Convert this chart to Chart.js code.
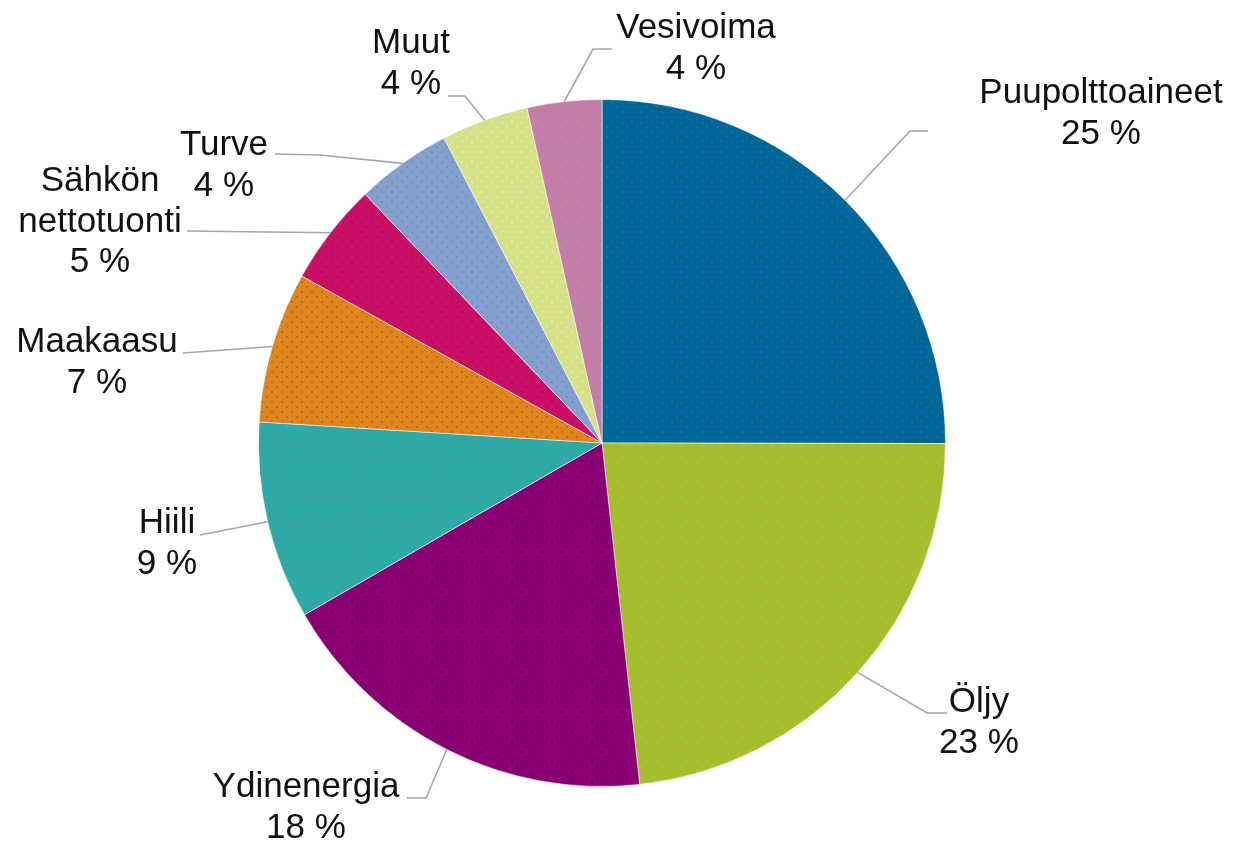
<!DOCTYPE html>
<html>
<head>
<meta charset="utf-8">
<script src="https://cdn.jsdelivr.net/npm/chart.js@4/dist/chart.umd.min.js"></script>
<style>
  html, body { margin: 0; padding: 0; background: #ffffff; }
  #wrap { width: 1234px; height: 841px; }
</style>
</head>
<body>
<div id="wrap"><canvas id="c" width="1234" height="841"></canvas></div>
<script>
// ---- Data ----
const categories = ["Puupolttoaineet", "Öljy", "Ydinenergia", "Hiili", "Maakaasu",
                    "Sähkön\nnettotuonti", "Turve", "Muut", "Vesivoima"];
const shares = [25.0, 23.2, 18.4, 9.3, 7.1, 4.8, 4.5, 4.1, 3.5];
const percentLabels = ["25 %", "23 %", "18 %", "9 %", "7 %", "5 %", "4 %", "4 %", "4 %"];

// ---- Styles ----
const baseColors = ["#006699", "#A9BD2C", "#8A0074", "#2CAAA6", "#E0861E",
                    "#CC0F66", "#86A0CC", "#D4E08A", "#C080A8"];
const dotColors  = ["#16708C", "#7CC83A", "#6E0064", "#5A98B0", "#C86A18",
                    "#A8145A", "#6C90E0", "#E4F070", "#D86C9C"];

// label layout: elbow point, end point of leader, text anchor (center x, first baseline)
const labelLayout = [
  { elbow: [910, 131], end: [928, 131], text: [1101, 103] },
  { elbow: [927, 713], end: [947, 713], text: [979, 712] },
  { elbow: [426, 798], end: [407, 798], text: [306, 797] },
  { elbow: [200, 535], end: [200, 535], text: [167, 533] },
  { elbow: [183, 353], end: [183, 353], text: [97, 352] },
  { elbow: [187, 231], end: [187, 231], text: [100, 191] },
  { elbow: [320, 155], end: [275, 154], text: [224, 155] },
  { elbow: [465, 96],  end: [448, 96],  text: [411, 53] },
  { elbow: [593, 49],  end: [612, 49],  text: [696, 38] }
];

function makePattern(base, dot) {
  const t = document.createElement('canvas');
  t.width = 10; t.height = 10;
  const g = t.getContext('2d');
  g.fillStyle = base; g.fillRect(0, 0, 10, 10);
  g.fillStyle = dot;
  g.fillRect(1, 1, 2, 2);
  g.fillRect(6, 6, 2, 2);
  return g.createPattern(t, 'repeat');
}
const ctx = document.getElementById('c').getContext('2d');
const fills = baseColors.map((c, i) => makePattern(c, dotColors[i]));

const leaderPlugin = {
  id: 'leaders',
  afterDatasetsDraw(chart) {
    const g = chart.ctx;
    const meta = chart.getDatasetMeta(0);
    const lineH = 40.5;
    g.save();
    meta.data.forEach((arc, i) => {
      const p = arc.getProps(['x', 'y', 'startAngle', 'endAngle', 'outerRadius'], true);
      const mid = (p.startAngle + p.endAngle) / 2;
      const sx = p.x + Math.cos(mid) * p.outerRadius;
      const sy = p.y + Math.sin(mid) * p.outerRadius;
      const L = labelLayout[i];
      g.strokeStyle = '#A9A3AA';
      g.lineWidth = 1.6;
      g.beginPath();
      g.moveTo(sx, sy);
      g.lineTo(L.elbow[0], L.elbow[1]);
      g.lineTo(L.end[0], L.end[1]);
      g.stroke();

      const lines = categories[i].split('\n').concat([percentLabels[i]]);
      g.fillStyle = '#111111';
      g.font = '35px "Liberation Sans", Arial, sans-serif';
      g.textAlign = 'center';
      g.textBaseline = 'alphabetic';
      lines.forEach((t, k) => g.fillText(t, L.text[0], L.text[1] + k * lineH));
    });
    g.restore();
  }
};

new Chart(ctx, {
  type: 'pie',
  data: {
    labels: categories,
    datasets: [{
      data: shares,
      backgroundColor: fills,
      borderColor: 'rgba(255,255,255,0.55)',
      borderWidth: 1
    }]
  },
  options: {
    responsive: false,
    animation: false,
    devicePixelRatio: 1,
    layout: { padding: { top: 99, bottom: 54, left: 0, right: 30 } },
    plugins: {
      legend: { display: false },
      tooltip: { enabled: false }
    }
  },
  plugins: [leaderPlugin]
});
</script>
</body>
</html>
